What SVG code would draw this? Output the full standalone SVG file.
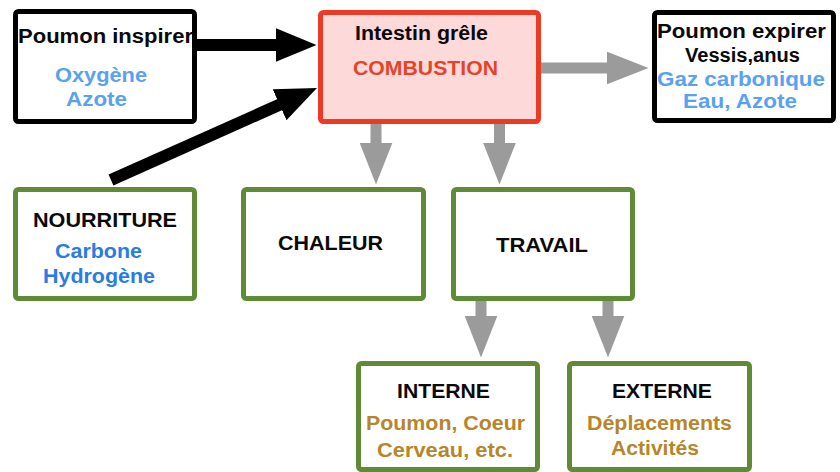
<svg xmlns="http://www.w3.org/2000/svg" width="840" height="472" viewBox="0 0 840 472">
  <style>
    text { font-family: "Liberation Sans", Arial, sans-serif; font-weight: bold; font-size: 20px; text-anchor: middle; }
    .k { fill: #0a0a0a; }
    .lb { fill: #5aa1ef; }
    .db { fill: #2a7ce3; }
    .au { fill: #b7852a; }
    .rd { fill: #e2462a; }
    .bx { fill: #ffffff; stroke-width: 5; }
    .blk { stroke: #000000; }
    .grn { stroke: #5f8a36; }
    .red { stroke: #ee3a24; fill: #fed9d9; }
    .ab { stroke: #000000; stroke-width: 12; fill: none; }
    .ag { stroke: #9b9b9b; stroke-width: 11; fill: none; }
  </style>
  <defs>
    <marker id="hb" markerUnits="userSpaceOnUse" viewBox="0 0 41 34" markerWidth="41" markerHeight="34" refX="0.5" refY="17" orient="auto">
      <path d="M0,0 L41,17 L0,34 z" fill="#000000"/>
    </marker>
    <marker id="hg" markerUnits="userSpaceOnUse" viewBox="0 0 42 33" markerWidth="42" markerHeight="33" refX="0.5" refY="16.5" orient="auto">
      <path d="M0,0 L42,16.5 L0,33 z" fill="#9b9b9b"/>
    </marker>
  </defs>

  <g id="connectors">
    <line class="ab" x1="197" y1="45" x2="276" y2="45" marker-end="url(#hb)"/>
    <line class="ab" x1="111" y1="180" x2="280" y2="104.5" marker-end="url(#hb)"/>
    <line class="ag" x1="541" y1="68" x2="607" y2="68" marker-end="url(#hg)"/>
    <line class="ag" x1="376" y1="124" x2="376" y2="143" marker-end="url(#hg)"/>
    <line class="ag" x1="499.5" y1="124" x2="499.5" y2="143" marker-end="url(#hg)"/>
    <line class="ag" x1="481" y1="301" x2="481" y2="316" marker-end="url(#hg)"/>
    <line class="ag" x1="608" y1="301" x2="608" y2="316" marker-end="url(#hg)"/>
  </g>

  <g id="poumon-inspirer">
    <rect class="bx blk" x="15.5" y="11.5" width="179" height="110" rx="3"/>
    <text class="k" x="105.5" y="43" textLength="175" lengthAdjust="spacingAndGlyphs">Poumon inspirer</text>
    <text class="lb" x="101" y="82" textLength="92" lengthAdjust="spacingAndGlyphs">Oxygène</text>
    <text class="lb" x="96.5" y="106" textLength="61" lengthAdjust="spacingAndGlyphs">Azote</text>
  </g>

  <g id="combustion">
    <rect class="bx red" x="320.5" y="12.5" width="218" height="109" rx="3"/>
    <text class="k" x="421.5" y="40" textLength="133" lengthAdjust="spacingAndGlyphs">Intestin grêle</text>
    <text class="rd" x="425.5" y="75" font-size="21" textLength="145" lengthAdjust="spacingAndGlyphs">COMBUSTION</text>
  </g>

  <g id="poumon-expirer">
    <rect class="bx blk" x="654.5" y="12.5" width="179" height="108" rx="3"/>
    <text class="k" x="741.5" y="38" textLength="169" lengthAdjust="spacingAndGlyphs">Poumon expirer</text>
    <text class="k" x="742.5" y="62" textLength="115" lengthAdjust="spacingAndGlyphs">Vessis,anus</text>
    <text class="lb" x="741" y="85.5" textLength="168" lengthAdjust="spacingAndGlyphs">Gaz carbonique</text>
    <text class="lb" x="740" y="108" textLength="114" lengthAdjust="spacingAndGlyphs">Eau, Azote</text>
  </g>

  <g id="nourriture">
    <rect class="bx grn" x="15.5" y="189.5" width="179" height="109" rx="3"/>
    <text class="k" x="105" y="227" font-size="21" textLength="144" lengthAdjust="spacingAndGlyphs">NOURRITURE</text>
    <text class="db" x="98.5" y="258" textLength="87" lengthAdjust="spacingAndGlyphs">Carbone</text>
    <text class="db" x="99" y="283" textLength="112" lengthAdjust="spacingAndGlyphs">Hydrogène</text>
  </g>

  <g id="chaleur">
    <rect class="bx grn" x="243.5" y="189.5" width="180" height="109" rx="3"/>
    <text class="k" x="330.5" y="250" textLength="105" lengthAdjust="spacingAndGlyphs">CHALEUR</text>
  </g>

  <g id="travail">
    <rect class="bx grn" x="453.5" y="189.5" width="179" height="109" rx="3"/>
    <text class="k" x="542" y="252" textLength="92" lengthAdjust="spacingAndGlyphs">TRAVAIL</text>
  </g>

  <g id="interne">
    <rect class="bx grn" x="358.5" y="363.5" width="179" height="106" rx="3"/>
    <text class="k" x="443.5" y="398" textLength="93" lengthAdjust="spacingAndGlyphs">INTERNE</text>
    <text class="au" x="445.5" y="430" textLength="159" lengthAdjust="spacingAndGlyphs">Poumon, Coeur</text>
    <text class="au" x="445" y="457" textLength="136" lengthAdjust="spacingAndGlyphs">Cerveau, etc.</text>
  </g>

  <g id="externe">
    <rect class="bx grn" x="569.5" y="363.5" width="180" height="106" rx="3"/>
    <text class="k" x="662" y="398" textLength="100" lengthAdjust="spacingAndGlyphs">EXTERNE</text>
    <text class="au" x="659.5" y="430" textLength="145" lengthAdjust="spacingAndGlyphs">Déplacements</text>
    <text class="au" x="655" y="455" textLength="88" lengthAdjust="spacingAndGlyphs">Activités</text>
  </g>
</svg>
